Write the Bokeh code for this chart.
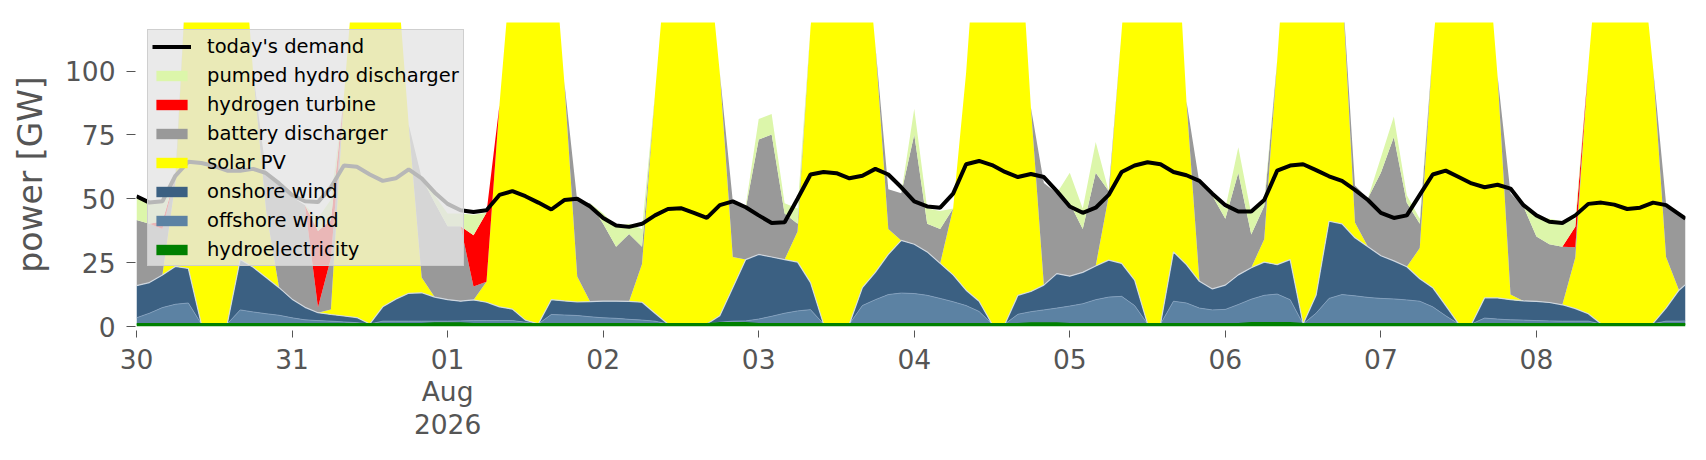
import numpy as np
import pandas as pd
from bokeh.plotting import figure
from bokeh.models import ColumnDataSource, Range1d, FixedTicker, Legend, LegendItem
from bokeh.embed import file_html
from bokeh.resources import INLINE

# ---------------- data (2-hourly samples) ----------------
start = pd.Timestamp("2026-07-30 00:00")
sample_hours = list(range(0, 240, 2)) + [239]
times = [start + pd.Timedelta(hours=h) for h in sample_hours]

demand = [51, 48.5, 49, 59, 64.5, 64, 62.8, 61, 61, 61.7,
          60, 56, 51.5, 49, 48.7, 54.5, 63, 62.5, 59.5, 57,
          58, 61.5, 58, 52.5, 48, 45.5, 44.8, 45.5, 51.5, 53,
          51, 48.5, 45.8, 49.5, 50, 47, 42.5, 39.5, 39, 40.2,
          43.5, 46, 46.3, 44.5, 42.5, 47.5, 49, 46.7, 43.5, 40.5,
          40.8, 50, 59.5, 60.5, 60, 58, 59, 61.7, 59.5, 54.5,
          49, 47, 46.5, 52, 63.5, 64.8, 63.2, 60.5, 58.5, 59.7,
          58.5, 53, 47, 44.5, 46.5, 51.5, 60.5, 63, 64.3, 63.5,
          60.5, 59.2, 57, 52, 47.5, 45, 45, 49.5, 61, 63,
          63.5, 61.2, 58.8, 57, 53.5, 49.5, 44.5, 42.5, 43.5, 51.5,
          59.5, 61, 58.5, 56, 54.5, 55.5, 54, 47.5, 43.5, 41,
          40.5, 43.5, 48, 48.5, 47.7, 46, 46.5, 48.5, 47.5, 44,
          42.2]

hydroelectricity = [1.0] * 23 + [1.3, 1.3, 1.3] + [1.0] * 19 + [1.4, 1.4, 1.4] + [1.0] * 21 + \
                   [1.3, 1.3, 1.3] + [1.0] * 14 + [1.4, 1.4, 1.4, 1.4] + [1.0] * 31

offshore_wind = [2.4, 4.2, 6.4, 7.7, 8.2, 0, 0, 0, 5.5, 4.7,
                 4.0, 3.4, 2.4, 1.6, 1.3, 1.1, 0.8, 0.5, 0, 1.1,
                 1.1, 1.1, 1.1, 0.8, 0.8, 0.9, 1.3, 1.3, 1.3, 1.3,
                 0.7, 0, 3.7, 3.5, 3.3, 2.8, 2.4, 2.2, 1.8, 1.5,
                 1.1, 0, 0, 0, 0, 0.3, 0.7, 0.8, 1.9, 3.0,
                 4.2, 5.1, 5.6, 0, 0, 0, 7.2, 9.5, 11.5, 12.1,
                 11.9, 11.2, 10, 8.7, 7.2, 4.9, 0, 0, 3.8, 4.5,
                 5.2, 5.9, 7.0, 7.9, 9.5, 10.5, 10.8, 7.2, 0, 0,
                 8.9, 8.2, 6.2, 5.5, 5.7, 7.6, 9.3, 10.8, 11.3, 9.1,
                 0, 4.2, 10, 11.5, 11, 10.4, 10, 9.8, 9.4, 8.9,
                 6.7, 3.2, 0, 0, 2.3, 1.9, 1.6, 1.5, 1.3, 1.2,
                 1.1, 1.1, 1.1, 0, 0, 0, 0, 0.1, 1.1, 1.1,
                 1.2]

onshore_wind = [12.6, 12, 12.8, 14.8, 13.5, 0, 0, 0, 19.7, 17.5,
                14.2, 10.8, 7.3, 4.9, 3.1, 2.6, 2.3, 2.0, 0, 5.6,
                8.6, 10.9, 11.1, 9.4, 8.4, 7.7, 8.1, 7.2, 5.4, 4.5,
                0.8, 0, 5.8, 5.5, 5.3, 5.9, 6.5, 6.7, 7.0, 7.0,
                3.1, 0, 0, 0, 0, 2.5, 13.1, 24, 25.3, 23.2,
                21, 19.1, 10.6, 0, 0, 0, 7, 10.7, 15.7, 20.6,
                19.3, 17, 13.7, 10.5, 6, 4, 0, 0, 7.4, 7.9,
                9.7, 13.5, 11.7, 12.3, 13.2, 14.5, 12.9, 10, 0, 0,
                19.3, 15, 10.5, 8.2, 9.5, 11.6, 12.3, 13, 11.5, 15.7,
                0, 7, 30.2, 27.7, 22.7, 19.8, 16.7, 14.9, 13, 8.8,
                7.5, 4, 0, 0, 7.9, 8.3, 7.9, 7.5, 7.5, 7.2,
                6.4, 4.9, 2.9, 0, 0, 0, 0, 0.1, 5.1, 12.1,
                14.2]

solar_pv = [0, 0, 0, 33, 130, 165, 178, 170, 140, 76,
            26, 0, 0, 0, 0, 2, 86, 150, 170, 165,
            135, 66, 6, 0, 0, 0, 0, 8, 79, 140,
            165, 170, 150, 86, 10, 0, 0, 0, 0, 15,
            86, 150, 170, 170, 150, 95, 12, 0, 0, 0,
            0, 12, 100, 165, 175, 175, 150, 89, 10, 0,
            0, 0, 0, 26, 85, 160, 175, 170, 155, 72,
            0, 0, 0, 0, 0, 25, 91, 160, 180, 180,
            150, 64, 0, 0, 0, 0, 0, 9, 80, 150,
            175, 170, 140, 95, 6, 0, 0, 0, 0, 12,
            93, 160, 175, 175, 150, 87, 2, 0, 0, 0,
            0, 20, 97, 160, 175, 170, 150, 100, 20, 0,
            0]

battery_discharger = [25.7, 23, 18, 2, 0, 0, 0, 0, 0, 0,
                      15, 40, 40, 40, 2, 20, 0, 0, 0, 0,
                      0, 0, 39, 37, 28.7, 29.3, 5.3, 0, 0, 0,
                      0, 0, 0, 0, 29.6, 38.5, 30.3, 21.3, 26.4, 6.7,
                      0, 0, 0, 0, 0, 0, 22, 20, 45, 48,
                      18, 3, 0, 0, 0, 0, 0, 0, 15.5, 18.5,
                      43, 11, 13.5, 0, 0, 0, 0, 0, 0, 0,
                      40, 31.5, 28.5, 17, 36.5, 2, 0, 0, 0, 0,
                      0, 0, 38.5, 36.5, 26, 40, 13, 13, 0, 0,
                      0, 0, 0, 0, 14.5, 19, 32.5, 48.5, 25, 9.5,
                      0, 0, 0, 0, 0, 0, 39.7, 37, 25.4, 22.8,
                      22.7, 4, 0, 0, 0, 0, 0, 0, 21, 30,
                      26]

hydrogen_turbine = [0, 0, 3, 0, 0, 0, 0, 0, 0, 0,
                    0, 0, 0, 0, 30, 15, 0, 0, 0, 0,
                    0, 0, 0, 0, 0, 0, 20, 27, 0, 0,
                    0, 0, 0, 0, 0, 0, 0, 0, 0, 0,
                    0, 0, 0, 0, 0, 0, 0, 0, 0, 0,
                    0, 0, 0, 0, 0, 0, 0, 0, 0, 0,
                    0, 0, 0, 0, 0, 0, 0, 0, 0, 0,
                    0, 0, 0, 0, 0, 0, 0, 0, 0, 0,
                    0, 0, 0, 0, 0, 0, 0, 0, 0, 0,
                    0, 0, 0, 0, 0, 0, 0, 0, 0, 0,
                    0, 0, 0, 0, 0, 0, 0, 0, 0, 0,
                    0, 8, 0, 0, 0, 0, 0, 0, 0, 0,
                    0]

pumped_hydro_discharger = [9, 8.5, 8, 0, 0, 0, 0, 0, 0, 0,
                           0, 0, 0, 0, 5, 8, 0, 0, 0, 0,
                           0, 0, 0, 3, 5, 5, 8, 0, 0, 0,
                           0, 0, 0, 0, 0, 0, 4, 8, 4, 7,
                           0, 0, 0, 0, 0, 0, 0, 1, 8, 8,
                           4, 6, 0, 0, 0, 0, 0, 0, 0, 0,
                           10, 6, 7, 0, 0, 0, 0, 0, 0, 0,
                           0, 0, 12, 8, 12, 0, 0, 0, 0, 0,
                           0, 0, 0, 0, 4, 10, 8, 2, 0, 0,
                           0, 0, 0, 0, 0, 0, 6, 8, 3, 2,
                           0, 0, 0, 0, 0, 0, 0, 0, 8, 10,
                           10, 3, 0, 0, 0, 0, 0, 0, 0, 0,
                           0]

series_names = ["hydroelectricity", "offshore wind", "onshore wind", "solar PV",
                "battery discharger", "hydrogen turbine", "pumped hydro discharger"]
series_keys = ["hydro", "offshore", "onshore", "solar", "battery", "hydrogen", "pumped"]
series_colors = ["#008000", "#5c82a3", "#3b6082", "#ffff00", "#999999", "#ff0000", "#dcf6aa"]

yticks = [0, 25, 50, 75, 100]
day_ticks = pd.date_range("2026-07-30", "2026-08-08", freq="D")

# ---------------- derived edge lines (boundaries between stacked layers) ----------------
h_arr = np.array(hydroelectricity, float)
off_arr = np.array(offshore_wind, float)
on_arr = np.array(onshore_wind, float)
off_top = h_arr + off_arr
on_top = off_top + on_arr
wind_any = (off_arr + on_arr) > 0
near = wind_any | np.roll(wind_any, 1) | np.roll(wind_any, -1)
off_edge = np.where(near, off_top, np.nan)
on_edge = np.where(near, on_top, np.nan)

# ---------------- figure ----------------
src = ColumnDataSource(dict(t=times, demand=demand, hydro=hydroelectricity,
                            offshore=offshore_wind, onshore=onshore_wind,
                            solar=solar_pv, battery=battery_discharger,
                            hydrogen=hydrogen_turbine, pumped=pumped_hydro_discharger,
                            off_edge=off_edge, on_edge=on_edge))

p = figure(width=1690, height=451, x_axis_type="datetime",
           x_range=Range1d(times[0], times[-1]), y_range=Range1d(0, 119),
           output_backend="svg", toolbar_location=None,
           min_border_left=136, min_border_right=5, min_border_top=22, min_border_bottom=125)
p.background_fill_color = "white"
p.border_fill_color = "white"
p.outline_line_color = None
p.xgrid.visible = False
p.ygrid.visible = False

rs = p.varea_stack(stackers=series_keys, x="t", color=series_colors, source=src)
p.line("t", "off_edge", source=src, line_color="#86a3c0", line_width=1, line_alpha=0.8)
p.line("t", "on_edge", source=src, line_color="#d5dde6", line_width=1.2, line_alpha=0.9)
p.line("t", "hydro", source=src, line_color="#008000", line_width=2)
line_r = p.line("t", "demand", source=src, line_color="black", line_width=4)

# axes
tick_ms = [d.value / 1e6 for d in day_ticks]
overrides = {}
for ms, d in zip(tick_ms, day_ticks):
    lab = d.strftime("%d")
    if d.day == 1:
        lab = lab + "\n" + d.strftime("%b") + "\n" + d.strftime("%Y")
    overrides[ms] = lab

xa = p.xaxis[0]
xa.ticker = FixedTicker(ticks=tick_ms)
xa.major_label_overrides = overrides
xa.minor_tick_line_color = None
xa.axis_line_color = None
xa.major_tick_line_color = "#555555"
xa.major_tick_in = -4
xa.major_tick_out = 11
xa.major_label_standoff = 6
xa.major_label_text_font = "DejaVu Sans"
xa.major_label_text_font_size = "26.5px"
xa.major_label_text_color = "#555555"
xa.major_label_text_line_height = 1.05

ya = p.yaxis[0]
ya.ticker = FixedTicker(ticks=yticks)
ya.minor_tick_line_color = None
ya.axis_line_color = None
ya.major_tick_line_color = "#555555"
ya.major_tick_in = -1
ya.major_tick_out = 10
ya.major_label_standoff = 11
ya.major_label_text_font = "DejaVu Sans"
ya.major_label_text_font_size = "26.5px"
ya.major_label_text_color = "#555555"
ya.axis_label = "power [GW]"
ya.axis_label_text_font = "DejaVu Sans"
ya.axis_label_text_font_size = "33px"
ya.axis_label_text_font_style = "normal"
ya.axis_label_text_color = "#555555"
ya.axis_label_standoff = 12

# legend (top entry first, then stack in reverse order)
items = [LegendItem(label="today's demand", renderers=[line_r])]
for i in range(len(series_names) - 1, -1, -1):
    items.append(LegendItem(label=series_names[i], renderers=[rs[i]]))
legend = Legend(items=items, location=(11, 60), padding=4, spacing=5,
                label_height=24, glyph_height=13, glyph_width=39, label_standoff=16,
                label_text_font="DejaVu Sans", label_text_font_size="19.5px",
                label_text_color="black",
                background_fill_color="#e5e5e5", background_fill_alpha=0.8,
                border_line_color="#cccccc", border_line_alpha=0.9, margin=0)
p.add_layout(legend)

open("out.html", "w").write(file_html(p, INLINE))
